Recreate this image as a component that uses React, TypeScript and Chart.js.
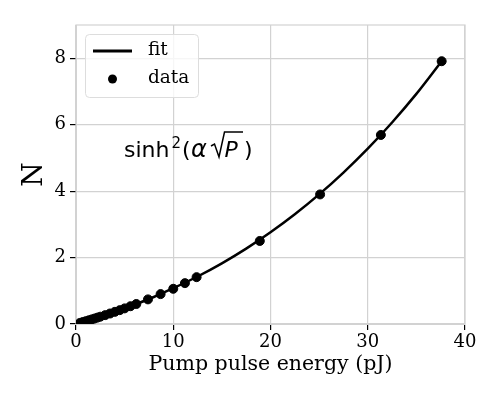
import React, { useEffect, useRef } from "react";
import { Chart, registerables } from "chart.js";

Chart.register(...registerables);

// Measured data (pump pulse energy in pJ, N)
const dataX = [0.4, 0.7, 1.0, 1.3, 1.6, 1.9, 2.2, 2.5, 3.0, 3.5, 4.0, 4.5, 5.0, 5.6, 6.2, 7.4, 8.7, 10.0, 11.2, 12.4, 18.9, 25.1, 31.35, 37.6];
const dataY = [0.033, 0.059, 0.084, 0.11, 0.137, 0.164, 0.192, 0.22, 0.267, 0.316, 0.366, 0.417, 0.47, 0.535, 0.602, 0.741, 0.9, 1.06, 1.23, 1.41, 2.5, 3.9, 5.69, 7.91];

// Fit curve
const fitX = [0, 0.5, 1, 2, 3, 4, 5, 6, 8, 10, 12.5, 15, 17.5, 20, 22.5, 25, 27.5, 30, 32.5, 35, 37.6];
const fitY = [0, 0.042, 0.084, 0.173, 0.267, 0.366, 0.47, 0.579, 0.813, 1.077, 1.43, 1.827, 2.27, 2.761, 3.303, 3.901, 4.559, 5.278, 6.066, 6.926, 7.91];

const xTicks = [0, 10, 20, 30, 40];
const yTicks = [0, 2, 4, 6, 8];

const SERIF = "'DejaVu Serif', serif";
const SANS = "'DejaVu Sans', sans-serif";
const GRID = "#d2d2d2";

const overlayPlugin = {
  id: "overlay",
  beforeDatasetsDraw(chart: any) {
    const ctx = chart.ctx as CanvasRenderingContext2D;
    const a = chart.chartArea;
    ctx.save();
    ctx.strokeStyle = GRID;
    ctx.lineWidth = 1.2;
    ctx.strokeRect(a.left, a.top, a.right - a.left, a.bottom - a.top);
    ctx.restore();
  },
  afterDraw(chart: any) {
    const ctx = chart.ctx as CanvasRenderingContext2D;
    ctx.save();
    // Legend box
    const bx = 85.5, by = 34.5, bw = 113, bh = 63, r = 4;
    ctx.beginPath();
    ctx.moveTo(bx + r, by);
    ctx.lineTo(bx + bw - r, by);
    ctx.quadraticCurveTo(bx + bw, by, bx + bw, by + r);
    ctx.lineTo(bx + bw, by + bh - r);
    ctx.quadraticCurveTo(bx + bw, by + bh, bx + bw - r, by + bh);
    ctx.lineTo(bx + r, by + bh);
    ctx.quadraticCurveTo(bx, by + bh, bx, by + bh - r);
    ctx.lineTo(bx, by + r);
    ctx.quadraticCurveTo(bx, by, bx + r, by);
    ctx.closePath();
    ctx.fillStyle = "rgba(255,255,255,0.8)";
    ctx.fill();
    ctx.strokeStyle = "#dddddd";
    ctx.lineWidth = 1;
    ctx.stroke();

    ctx.strokeStyle = "#000";
    ctx.lineWidth = 2.8;
    ctx.beginPath();
    ctx.moveTo(93, 51);
    ctx.lineTo(132, 51);
    ctx.stroke();
    ctx.fillStyle = "#000";
    ctx.beginPath();
    ctx.arc(112.5, 79, 4.5, 0, Math.PI * 2);
    ctx.fill();
    ctx.font = `18.5px ${SERIF}`;
    ctx.textBaseline = "middle";
    ctx.textAlign = "left";
    ctx.fillText("fit", 148, 50);
    ctx.fillText("data", 148, 78);

    // Formula annotation: sinh^2(α√P)
    ctx.textBaseline = "alphabetic";
    const base = 157;
    ctx.font = `22px ${SANS}`;
    ctx.fillText("sinh", 124, base);
    ctx.font = `15px ${SANS}`;
    ctx.fillText("2", 171.5, base - 9);
    ctx.font = `22px ${SANS}`;
    ctx.fillText("(", 182, base);
    ctx.font = `italic 24px ${SANS}`;
    ctx.fillText("α", 191, base);
    // radical sign
    ctx.lineWidth = 1.5;
    ctx.lineJoin = "miter";
    ctx.beginPath();
    ctx.moveTo(211, 146);
    ctx.lineTo(214.5, 144);
    ctx.lineTo(219, 157);
    ctx.lineTo(224.5, 132);
    ctx.lineTo(243, 132);
    ctx.stroke();
    ctx.font = `italic 22px ${SANS}`;
    ctx.fillText("P", 224.5, base);
    ctx.font = `22px ${SANS}`;
    ctx.fillText(")", 244, base);
    ctx.restore();
  },
};

export default function App() {
  const ref = useRef<HTMLCanvasElement>(null);
  useEffect(() => {
    document.body.style.margin = "0";
    const canvas = ref.current!;
    const chart = new Chart(canvas, {
      type: "scatter",
      data: {
        datasets: [
          {
            type: "line",
            label: "fit",
            data: fitX.map((x, i) => ({ x, y: fitY[i] })),
            borderColor: "#000",
            borderWidth: 2.5,
            pointRadius: 0,
            cubicInterpolationMode: "monotone",
            fill: false,
          } as any,
          {
            label: "data",
            data: dataX.map((x, i) => ({ x, y: dataY[i] })),
            backgroundColor: "#000",
            borderColor: "#000",
            pointRadius: 4.5,
            pointHoverRadius: 4.5,
          },
        ],
      },
      options: {
        responsive: false,
        animation: false,
        events: [],
        layout: { padding: { left: 18, right: 33, top: 25, bottom: 18 } },
        plugins: { legend: { display: false }, tooltip: { enabled: false } },
        scales: {
          x: {
            type: "linear",
            min: 0,
            max: 40,
            afterBuildTicks: (s: any) => {
              s.ticks = xTicks.map((v) => ({ value: v }));
            },
            afterFit: (s: any) => {
              s.height = 57;
            },
            ticks: { font: { family: SERIF, size: 18 }, color: "#000", padding: 2 },
            grid: { color: GRID, tickColor: "#000", tickLength: 6, lineWidth: 1.2 },
            border: { color: GRID },
            title: {
              display: true,
              text: "Pump pulse energy (pJ)",
              font: { family: SERIF, size: 20.5 },
              color: "#000",
              padding: { top: 0, bottom: 4 },
            },
          },
          y: {
            type: "linear",
            min: 0,
            max: 9,
            afterBuildTicks: (s: any) => {
              s.ticks = yTicks.map((v) => ({ value: v }));
            },
            afterFit: (s: any) => {
              s.width = 58;
            },
            ticks: { font: { family: SERIF, size: 18 }, color: "#000", padding: 4 },
            grid: { color: GRID, tickColor: "#000", tickLength: 6, lineWidth: 1.2 },
            border: { color: GRID },
            title: {
              display: true,
              text: "N",
              font: { family: SERIF, size: 28 },
              color: "#000",
              padding: { top: 0, bottom: 0 },
            },
          },
        },
      },
      plugins: [overlayPlugin],
    });
    return () => chart.destroy();
  }, []);
  return <canvas ref={ref} width={498} height={399} style={{ display: "block" }} />;
}
